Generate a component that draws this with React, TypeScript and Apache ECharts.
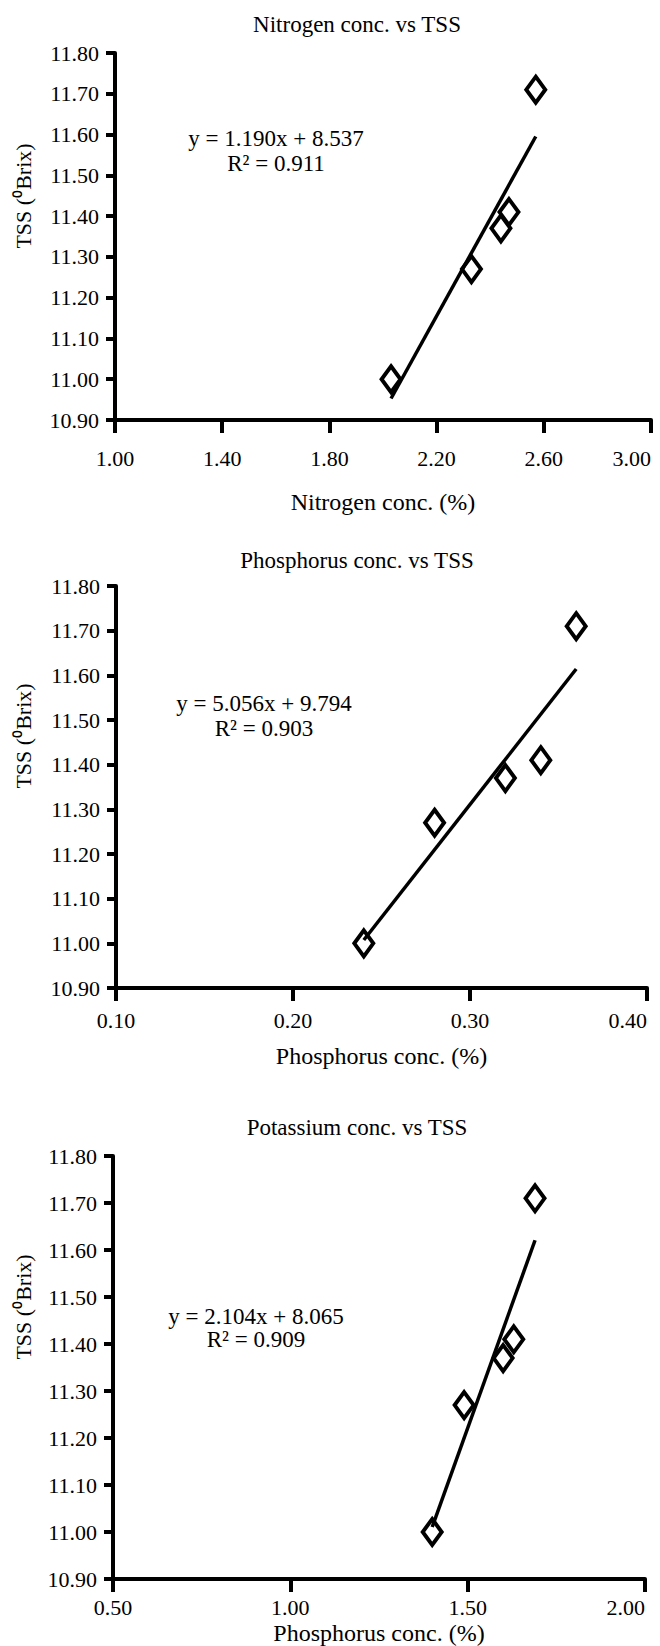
import React, { useEffect, useRef } from "react";
import * as echarts from "echarts";

// ---- Data ----
const tss = [11.0, 11.27, 11.37, 11.41, 11.71];
const nitrogen = [2.03, 2.33, 2.44, 2.47, 2.57];
const phosphorus = [0.24, 0.28, 0.32, 0.34, 0.36];
const potassium = [1.4, 1.49, 1.6, 1.63, 1.69];

const yTicks = [10.9, 11.0, 11.1, 11.2, 11.3, 11.4, 11.5, 11.6, 11.7, 11.8];
const nTicks = [1.0, 1.4, 1.8, 2.2, 2.6, 3.0];
const pTicks = [0.1, 0.2, 0.3, 0.4];
const kTicks = [0.5, 1.0, 1.5, 2.0];

const titles = ["Nitrogen conc. vs TSS", "Phosphorus conc. vs TSS", "Potassium conc. vs TSS"];
const xNames = ["Nitrogen conc. (%)", "Phosphorus conc. (%)", "Phosphorus conc. (%)"];
const yName = "TSS (\u2070Brix)";
const slopes = [1.19, 5.056, 2.104];
const intercepts = [8.537, 9.794, 8.065];
const eqLines = ["y = 1.190x + 8.537", "y = 5.056x + 9.794", "y = 2.104x + 8.065"];
const r2Lines = ["R\u00b2 = 0.911", "R\u00b2 = 0.903", "R\u00b2 = 0.909"];

// ---- Layout ----
const FONT = "Liberation Serif, serif";
const TICK_FONT = 22;
const layouts = [
  { left: 115, top: 53, width: 536, height: 367, labelMargin: 27, nameGap: 70, titleY: 24, yNameY: 196, eqX: 276, eqY: 138, r2Y: 163 },
  { left: 116, top: 586, width: 531, height: 402, labelMargin: 21, nameGap: 56, titleY: 560, yNameY: 736, eqX: 264, eqY: 703, r2Y: 728 },
  { left: 113, top: 1156, width: 532, height: 423, labelMargin: 17, nameGap: 42, titleY: 1127, yNameY: 1307, eqX: 256, eqY: 1316, r2Y: 1339 },
];

const xs = [nitrogen, phosphorus, potassium];
const xTickSets = [nTicks, pTicks, kTicks];

const fmt = (v: number) => v.toFixed(2);

export default function App() {
  const ref = useRef<HTMLDivElement>(null);
  useEffect(() => {
    if (!ref.current) return;
    const chart = echarts.init(ref.current, undefined, { renderer: "svg" });
    const grid: any[] = [];
    const xAxis: any[] = [];
    const yAxis: any[] = [];
    const series: any[] = [];
    const graphic: any[] = [];
    layouts.forEach((L, i) => {
      grid.push({ left: L.left, top: L.top, width: L.width, height: L.height, containLabel: false, outerBoundsMode: "none" });
      const ticks = xTickSets[i];
      xAxis.push({
        type: "value",
        gridIndex: i,
        min: ticks[0],
        max: ticks[ticks.length - 1],
        name: xNames[i],
        nameLocation: "middle",
        nameGap: L.nameGap,
        nameTextStyle: { fontFamily: FONT, fontSize: 24, color: "#000" },
        axisLine: { show: true, onZero: false, lineStyle: { color: "#000", width: 4 } },
        axisTick: { show: true, length: 13, customValues: ticks, lineStyle: { color: "#000", width: 4 } },
        axisLabel: {
          customValues: ticks,
          margin: L.labelMargin,
          fontFamily: FONT,
          fontSize: TICK_FONT,
          color: "#000",
          alignMaxLabel: "right",
          formatter: fmt,
        },
        splitLine: { show: false },
      });
      yAxis.push({
        type: "value",
        gridIndex: i,
        min: yTicks[0],
        max: yTicks[yTicks.length - 1],
        axisLine: { show: true, onZero: false, lineStyle: { color: "#000", width: 4 } },
        axisTick: { show: true, length: 9, customValues: yTicks, lineStyle: { color: "#000", width: 4 } },
        axisLabel: {
          customValues: yTicks,
          margin: 16,
          fontFamily: FONT,
          fontSize: TICK_FONT,
          color: "#000",
          formatter: fmt,
        },
        splitLine: { show: false },
      });
      const xv = xs[i];
      const xmin = Math.min(...xv);
      const xmax = Math.max(...xv);
      series.push({
        type: "scatter",
        xAxisIndex: i,
        yAxisIndex: i,
        symbol: "diamond",
        symbolSize: [19, 26],
        itemStyle: { color: "#fff", borderColor: "#000", borderWidth: 4, opacity: 1 },
        emphasis: { disabled: true },
        data: xv.map((x, k) => [x, tss[k]]),
        z: 2,
      });
      series.push({
        type: "line",
        xAxisIndex: i,
        yAxisIndex: i,
        symbol: "none",
        lineStyle: { color: "#000", width: 3.5, opacity: 1 },
        data: [
          [xmin, slopes[i] * xmin + intercepts[i]],
          [xmax, slopes[i] * xmax + intercepts[i]],
        ],
        z: 3,
      });
      graphic.push({
        type: "text",
        x: 357,
        y: L.titleY,
        style: { text: titles[i], fontFamily: FONT, fontSize: 23, fill: "#000", textAlign: "center", textVerticalAlign: "middle" },
      });
      graphic.push({
        type: "text",
        x: 23,
        y: L.yNameY,
        rotation: Math.PI / 2,
        style: { text: yName, fontFamily: FONT, fontSize: 22, fill: "#000", textAlign: "center", textVerticalAlign: "middle" },
      });
      graphic.push({
        type: "text",
        x: L.eqX,
        y: L.eqY,
        style: { text: eqLines[i], fontFamily: FONT, fontSize: 23, fill: "#000", textAlign: "center", textVerticalAlign: "middle" },
      });
      graphic.push({
        type: "text",
        x: L.eqX,
        y: L.r2Y,
        style: { text: r2Lines[i], fontFamily: FONT, fontSize: 23, fill: "#000", textAlign: "center", textVerticalAlign: "middle" },
      });
    });
    chart.setOption({
      animation: false,
      backgroundColor: "#fff",
      textStyle: { fontFamily: FONT },
      grid,
      xAxis,
      yAxis,
      series,
      graphic,
    });
    return () => chart.dispose();
  }, []);
  return (
    <div
      ref={ref}
      style={{ position: "absolute", left: 0, top: 0, width: 660, height: 1646 }}
    />
  );
}
